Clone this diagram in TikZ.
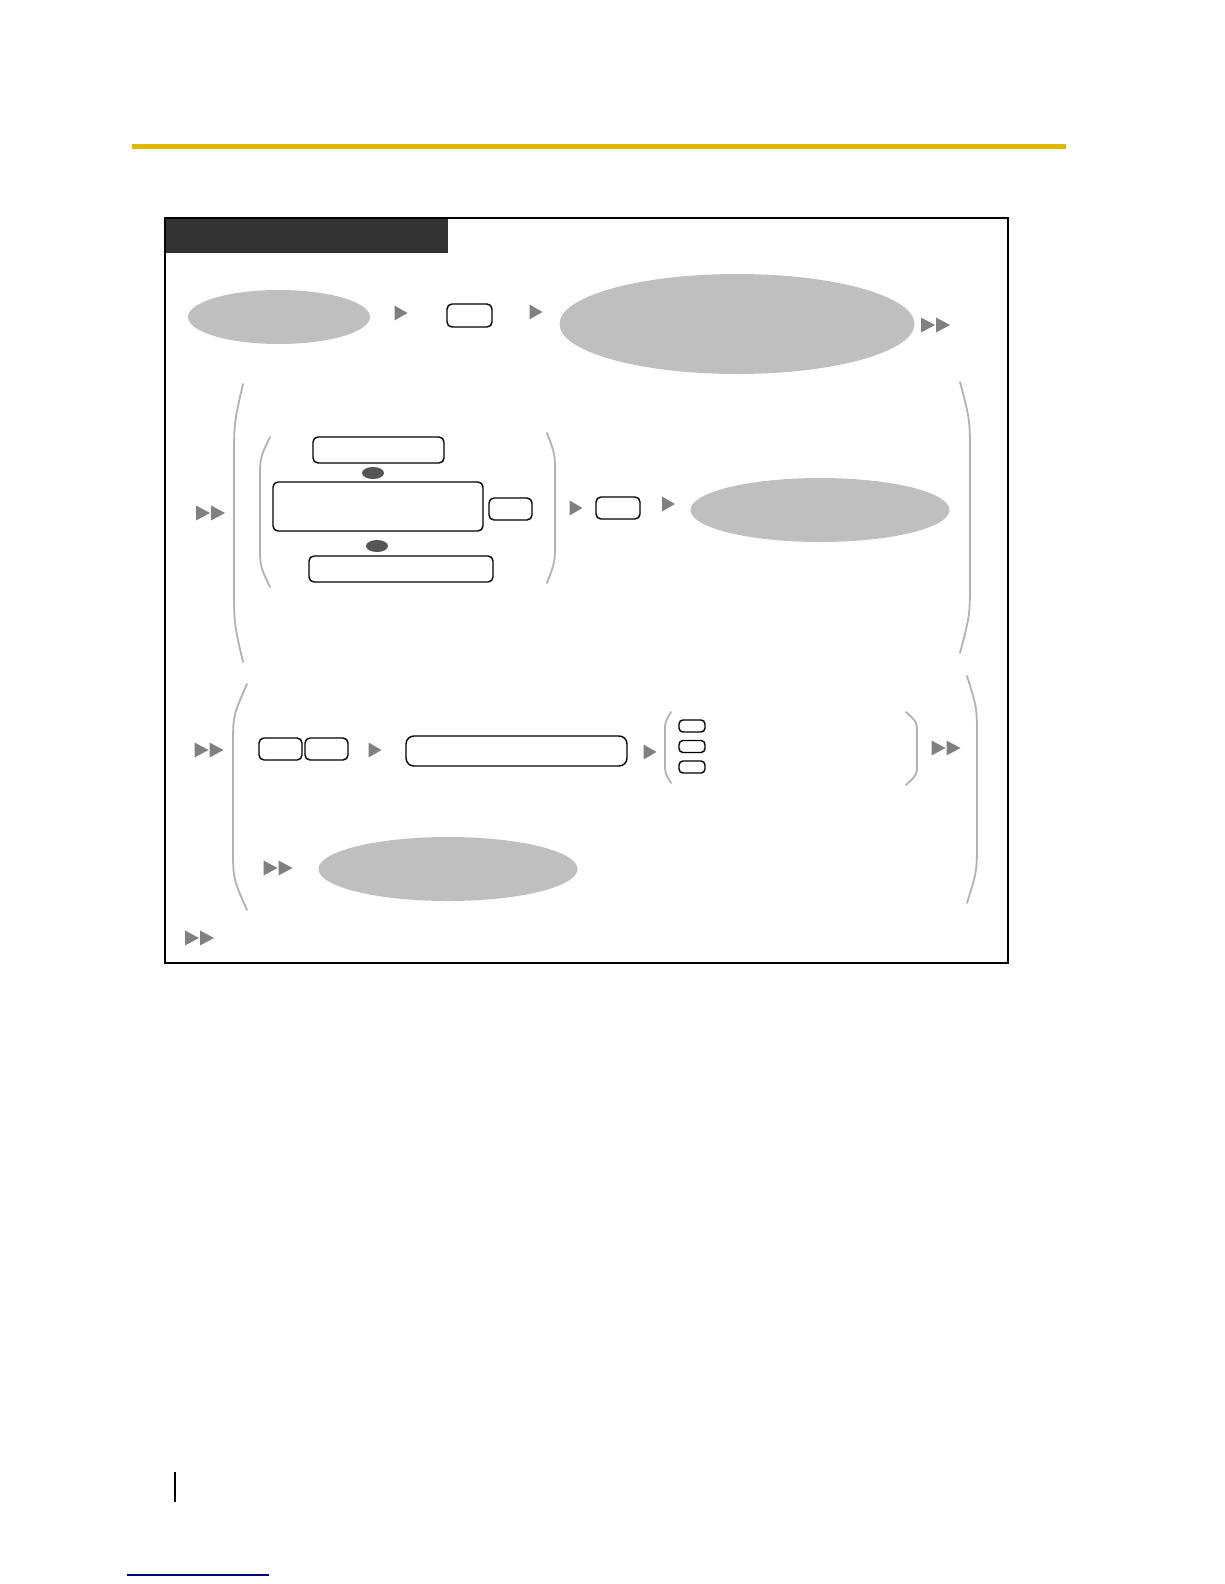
\documentclass[tikz,border=0pt]{standalone}
\usepackage{tikz}
\usetikzlibrary{shapes.geometric}
\usetikzlibrary{positioning}
\usetikzlibrary{calc}

\definecolor{ovalgray}{RGB}{191,191,191}
\definecolor{tipgray}{RGB}{128,128,128}
\definecolor{dotgray}{RGB}{85,85,85}
\definecolor{brakgray}{RGB}{178,178,178}
\definecolor{headgray}{RGB}{51,51,51}
\definecolor{rulegold}{RGB}{224,184,0}
\definecolor{linknavy}{RGB}{0,0,128}

\tikzset{
	oval/.style={ellipse, fill=ovalgray, draw=none, inner sep=0pt},
	keybox/.style={rectangle, draw=black, line width=1.4pt, rounded corners=5pt, inner sep=0pt},
	keydot/.style={ellipse, fill=dotgray, draw=none, inner sep=0pt, minimum width=22pt, minimum height=12pt},
	brak/.style={draw=brakgray, line width=1.8pt, line cap=round},
	tip/.pic={\fill[tipgray] (-6.5,-7.5) -- (6.5,0) -- (-6.5,7.5) -- cycle;},
	dtip/.pic={\fill[tipgray] (-14,-7.5) -- (0,0) -- (-14,7.5) -- cycle;
		\fill[tipgray] (1,-7.5) -- (15,0) -- (1,7.5) -- cycle;},
}
% bracket: x of the ends, x of the middle, top y, bottom y
\newcommand{\brakline}[4]{%
	\draw[brak] (#1,#3) .. controls (#2,{#3+0.14*(#4-#3)}) .. (#2,{#3+0.28*(#4-#3)})
		-- (#2,{#4-0.28*(#4-#3)}) .. controls (#2,{#4-0.14*(#4-#3)}) .. (#1,#4);}

\begin{document}
\begin{tikzpicture}[x=1pt, y=-1pt]
	\useasboundingbox (0,0) rectangle (1224,1584);
	\draw[rulegold, line width=5pt] (132,146.5)--(1066,146.5);
	\fill[headgray] (165,218) rectangle (448,253);
	\draw[line width=2.5pt] (165,218) rectangle (1008,963);
%
	% first line
	\node[oval, minimum width=182pt, minimum height=54pt] (ovA) at (279,317) {};
	\pic at (401,313) {tip};
	\node[keybox, minimum width=45pt, minimum height=23pt] (keyA) at (469.5,315.5) {};
	\pic at (536,312) {tip};
	\node[oval, minimum width=355pt, minimum height=100pt] (ovB) at (737,324) {};
	\pic at (935,325) {dtip};
%
	% second block
	\pic at (210,513) {dtip};
	\brakline{243}{234}{384}{662}
	\brakline{960}{970}{382}{653}
	\brakline{270}{260}{437}{587}
	\brakline{547}{555}{433}{583}
	\node[keybox, minimum width=131pt, minimum height=26pt] (keyB) at (378.5,450) {};
	\node[keydot] (dotA) at (373,473) {};
	\node[keybox, minimum width=210pt, minimum height=49pt] (keyC) at (378,506.5) {};
	\node[keybox, minimum width=43pt, minimum height=22pt] (keyD) at (510.5,509) {};
	\node[keydot] (dotB) at (377,546) {};
	\node[keybox, minimum width=184pt, minimum height=26pt] (keyE) at (401,569) {};
	\pic at (576,508) {tip};
	\node[keybox, minimum width=44pt, minimum height=22pt] (keyF) at (618,508) {};
	\pic at (668.5,504) {tip};
	\node[oval, minimum width=259pt, minimum height=64pt] (ovC) at (820,510) {};
%
	% third block
	\pic at (208.5,750) {dtip};
	\brakline{247}{233}{684}{910}
	\brakline{967}{977}{676}{903}
	\node[keybox, minimum width=43pt, minimum height=22pt] (keyG) at (280.5,749) {};
	\node[keybox, minimum width=43pt, minimum height=22pt] (keyH) at (326.5,749) {};
	\pic at (375,750) {tip};
	\node[keybox, minimum width=221pt, minimum height=30pt, rounded corners=8pt] (keyI) at (516.5,751) {};
	\pic at (650,752) {tip};
	\brakline{671}{665}{712}{783}
	\brakline{906}{917}{712}{785}
	\foreach \y/\n in {726/1,746.5/2,767/3}
		\node[keybox, minimum width=26pt, minimum height=12pt, rounded corners=4pt] (keyJ\n) at (692,\y) {};
	\pic at (945.5,748) {dtip};
	\pic at (277.5,868) {dtip};
	\node[oval, minimum width=259pt, minimum height=64pt] (ovD) at (448,869) {};
	\pic at (199,938) {dtip};
%
	% page foot
	\draw[line width=2.5pt] (175,1472)--(175,1502);
	\draw[linknavy, line width=1.5pt] (127,1575)--(269,1575);
\end{tikzpicture}
\end{document}
